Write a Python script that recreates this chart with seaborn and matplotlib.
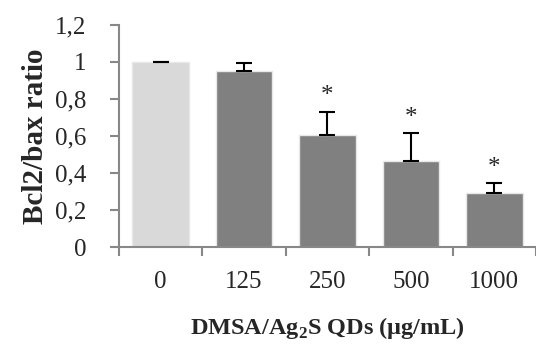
import matplotlib
matplotlib.use("Agg")
import matplotlib.pyplot as plt
import seaborn as sns
import numpy as np

# values
doses = ["0", "125", "250", "500", "1000"]
ratio = [1.00, 0.953, 0.605, 0.466, 0.294]
err = [0.0, 0.04, 0.126, 0.148, 0.05]
signif = ["", "", "*", "*", "*"]
bar_colors = ["#d9d9d9", "#808080", "#808080", "#808080", "#808080"]
ytick_vals = [0, 0.2, 0.4, 0.6, 0.8, 1.0, 1.2]
ytick_labels = ["0", "0,2", "0,4", "0,6", "0,8", "1", "1,2"]

sns.set_style("white")
plt.rcParams["font.family"] = ["Liberation Serif", "DejaVu Serif"]

fig = plt.figure(figsize=(5.36, 3.45), dpi=100)
ax = fig.add_axes([0.222, 0.284, 0.778, 0.644])

sns.barplot(x=doses, y=ratio, hue=doses, palette=bar_colors, legend=False,
            width=0.68, edgecolor="#e8e8e8", linewidth=1, ax=ax, errorbar=None)

# one-sided error bars (upper only)
ax.errorbar(np.arange(len(doses)), ratio, yerr=[np.zeros(len(err)), err],
            fmt="none", ecolor="black", elinewidth=1.5, capsize=6, capthick=1.5)

for i, s in enumerate(signif):
    if s:
        ax.text(i, ratio[i] + err[i] + 0.05, s, ha="center", va="baseline", fontsize=18)

ax.set_ylim(0, 1.2)
ax.set_xlim(-0.5, 4.45)
ax.set_yticks(ytick_vals)
ax.set_yticklabels(ytick_labels, fontsize=18)
ax.set_xticks(range(len(doses)))
ax.set_xticklabels(doses, fontsize=18)
ax.set_xticks(np.arange(-0.5, 4.6, 1), minor=True)
ax.tick_params(axis="x", which="major", length=0, pad=17)
ax.tick_params(axis="x", which="minor", length=6.5, width=1.5, color="#888888", direction="out", bottom=True)
ax.tick_params(axis="y", length=6.5, width=1.5, color="#888888", direction="out", left=True, pad=17)

for side in ["top", "right"]:
    ax.spines[side].set_visible(False)
for side in ["left", "bottom"]:
    ax.spines[side].set_color("#888888")
    ax.spines[side].set_linewidth(1.5)

ax.set_xlabel("DMSA/Ag$_\\mathregular{2}$S QDs (\u03bcg/mL)", fontsize=17.5, fontweight="bold", labelpad=16)
ax.set_ylabel("Bcl2/bax ratio", fontsize=21, fontweight="bold", labelpad=4)

fig.savefig("out.png", dpi=100)
